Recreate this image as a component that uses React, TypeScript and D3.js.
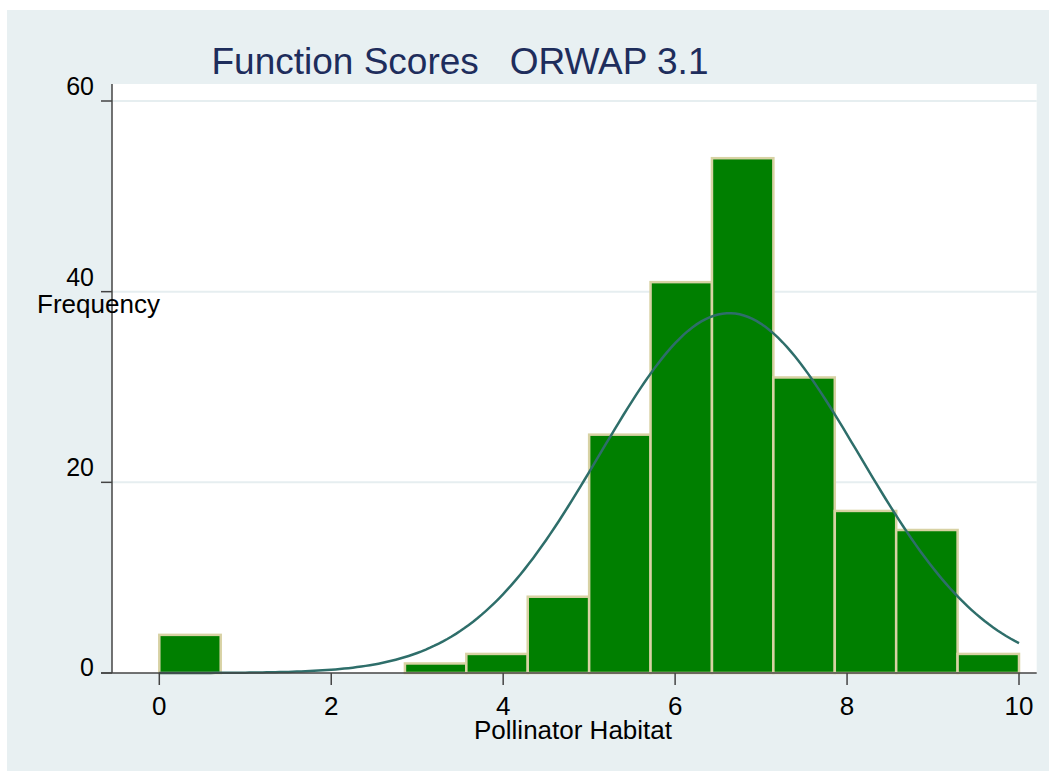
import React from "react";
import * as d3 from "d3";

const binEdgesCount = 14;
const xMin = 0;
const xMax = 10;
const frequencies = [4, 0, 0, 0, 1, 2, 8, 25, 41, 54, 31, 17, 15, 2];
const xTicks = [0, 2, 4, 6, 8, 10];
const yTicks = [0, 20, 40, 60];
const fitMean = 6.63;
const fitSd = 1.51;
const totalN = 200;

const W = 1049;
const H = 772;

export default function App() {
  const x = d3.scaleLinear().domain([0, 10]).range([159.3, 1019]);
  const y = d3.scaleLinear().domain([0, 60]).range([673, 101]);
  const bw = (xMax - xMin) / binEdgesCount;
  const bins = frequencies.map((f, i) => ({ x0: xMin + i * bw, x1: xMin + (i + 1) * bw, f }));

  const curvePts: [number, number][] = d3.range(0, 201).map((i) => {
    const v = xMin + (i / 200) * (xMax - xMin);
    const z = (v - fitMean) / fitSd;
    const dens = Math.exp(-0.5 * z * z) / (fitSd * Math.sqrt(2 * Math.PI));
    return [v, dens * totalN * bw];
  });
  const line = d3
    .line<[number, number]>()
    .x((d) => x(d[0]))
    .y((d) => y(d[1]));

  const font = "Arial, 'Liberation Sans', Helvetica, sans-serif";

  return (
    <svg
      width={W}
      height={H}
      style={{ position: "absolute", left: 0, top: 0 }}
      fontFamily={font}
    >
      <rect x={0} y={0} width={W} height={H} fill="#ffffff" />
      <rect x={7} y={10} width={W - 7} height={H - 11} fill="#e8f0f2" />
      <rect x={112} y={84} width={1036.7 - 112} height={673 - 84} fill="#ffffff" />
      {yTicks
        .filter((t) => t > 0)
        .map((t) => (
          <line key={t} x1={112} x2={1036.7} y1={y(t)} y2={y(t)} stroke="#e6eef0" strokeWidth={2} />
        ))}
      {bins
        .filter((b) => b.f > 0)
        .map((b, i) => (
          <rect
            key={i}
            x={x(b.x0)}
            y={y(b.f)}
            width={x(b.x1) - x(b.x0)}
            height={y(0) - y(b.f)}
            fill="#007f00"
            stroke="#d8d2a4"
            strokeWidth={2.5}
          />
        ))}
      <path d={line(curvePts) || ""} fill="none" stroke="#2e6e6a" strokeWidth={2.5} />
      {/* y axis */}
      <line x1={112} x2={112} y1={84} y2={673} stroke="#444" strokeWidth={1.5} />
      {yTicks.map((t) => (
        <g key={t}>
          <line x1={101} x2={112} y1={y(t)} y2={y(t)} stroke="#444" strokeWidth={1.5} />
          <text x={94} y={t === 0 ? y(t) + 3 : y(t) - 6} textAnchor="end" fontSize={25} fill="#000">
            {t}
          </text>
        </g>
      ))}
      {/* x axis */}
      <line x1={101} x2={1036.7} y1={673} y2={673} stroke="#444" strokeWidth={1.5} />
      {xTicks.map((t) => (
        <g key={t}>
          <line x1={x(t)} x2={x(t)} y1={673} y2={685} stroke="#444" strokeWidth={1.5} />
          <text x={x(t)} y={715} textAnchor="middle" fontSize={26} fill="#000">
            {t}
          </text>
        </g>
      ))}
      <text x={573} y={739} textAnchor="middle" fontSize={26} fill="#000">
        Pollinator Habitat
      </text>
      <text x={98.5} y={313} textAnchor="middle" fontSize={26} fill="#000">
        Frequency
      </text>
      <text x={460} y={74} textAnchor="middle" fontSize={37} fill="#1e2d5c" style={{ whiteSpace: "pre" }}>
        {"Function Scores   ORWAP 3.1"}
      </text>
    </svg>
  );
}
